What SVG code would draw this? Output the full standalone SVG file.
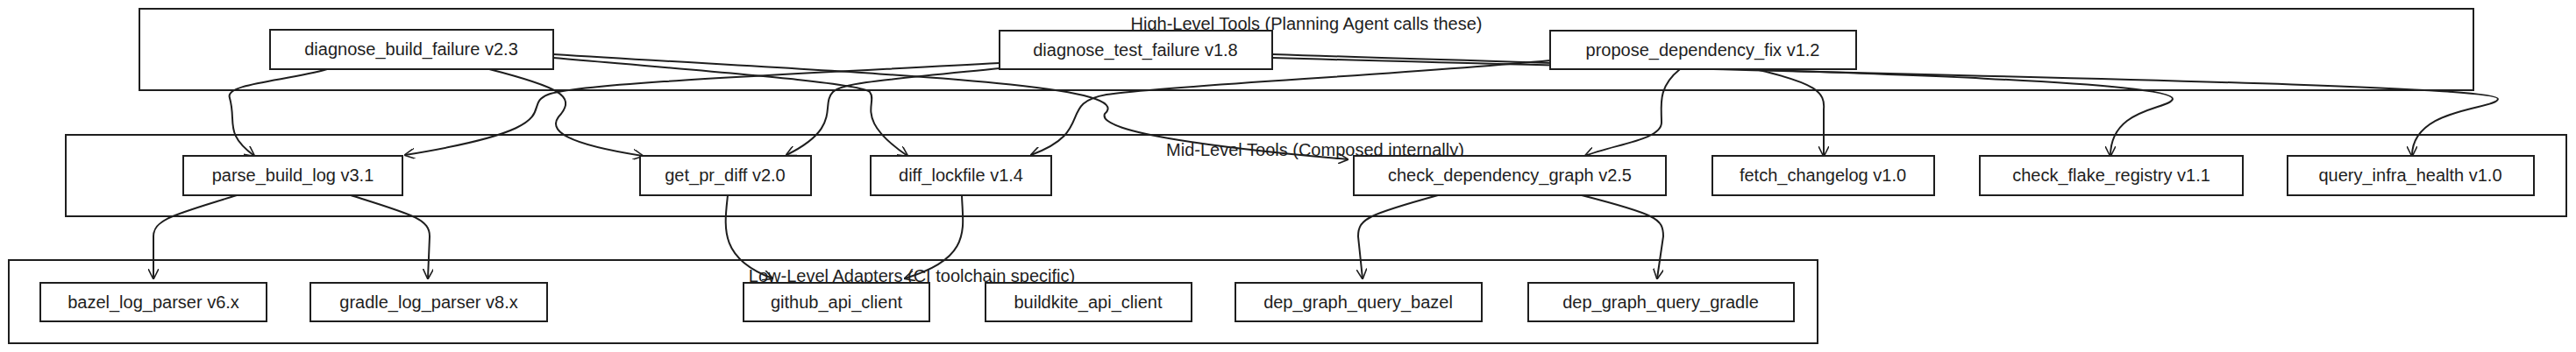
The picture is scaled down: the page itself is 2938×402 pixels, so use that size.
<svg xmlns="http://www.w3.org/2000/svg" width="2938" height="402" viewBox="0 0 2938 402">
<defs>
<marker id="ah" viewBox="0 0 12 12" refX="11" refY="6" markerWidth="12" markerHeight="12" markerUnits="userSpaceOnUse" orient="auto">
<path d="M0,0 L12,6 L0,12" fill="none" stroke="#1e1e1e" stroke-width="1.6"/>
</marker>
</defs>
<style>
.c{fill:none;stroke:#1e1e1e;stroke-width:2}
.n{fill:#fff;stroke:#1e1e1e;stroke-width:2}
.e{fill:none;stroke:#1e1e1e;stroke-width:2;marker-end:url(#ah)}
text{font-family:"Liberation Sans",Arial,sans-serif;font-size:20px;fill:#1e1e1e;text-anchor:middle;dominant-baseline:central}
</style>
<rect width="2938" height="402" fill="#fff"/>
<g id="containers">
<rect class="c" x="159" y="10" width="2662" height="93"/>
<rect class="c" x="75" y="154" width="2852" height="93"/>
<rect class="c" x="10" y="297" width="2063" height="95"/>
</g>
<g id="connectors">
<path class="e" d="M373,79 C330,92 255,95 262,112 C270,140 255,152 290,178"/>
<path class="e" d="M558,79 C640,100 655,110 640,130 C620,150 650,165 733,178"/>
<path class="e" d="M631,66 C850,85 980,95 992,105 C1002,118 972,135 1035,178"/>
<path class="e" d="M631,62 C1000,85 1300,95 1260,130 C1250,152 1400,170 1537,182"/>
<path class="e" d="M1140,72 C900,85 660,95 625,108 C590,122 660,145 462,177"/>
<path class="e" d="M1140,78 C1000,92 960,95 950,105 C935,120 962,145 897,177"/>
<path class="e" d="M1768,69 C1600,85 1330,98 1262,108 C1205,118 1250,150 1176,177"/>
<path class="e" d="M1451,62 C2000,80 2480,90 2478,113 C2475,125 2407,122 2407,178"/>
<path class="e" d="M1451,66 C2100,85 2850,95 2849,113 C2848,125 2751,122 2751,178"/>
<path class="e" d="M1916,79 C1890,100 1895,120 1895,140 C1895,160 1840,165 1808,178"/>
<path class="e" d="M2006,80 C2070,95 2082,105 2080,125 L2080,178"/>
<path class="e" d="M270,223 C200,245 175,250 175,270 L175,318"/>
<path class="e" d="M400,223 C470,245 490,250 490,270 L488,318"/>
<path class="e" d="M830,223 C826,260 820,295 881,318"/>
<path class="e" d="M1097,223 C1098,260 1110,295 1032,318"/>
<path class="e" d="M1640,223 C1560,245 1549,250 1549,270 L1554,318"/>
<path class="e" d="M1804,223 C1890,245 1897,250 1897,270 L1890,318"/>
</g>
<g id="labels">
<text x="1490" y="27">High-Level Tools (Planning Agent calls these)</text>
<text x="1500" y="171">Mid-Level Tools (Composed internally)</text>
<text x="1040" y="315">Low-Level Adapters (CI toolchain specific)</text>
</g>
<g id="dbf"><rect class="n" x="308" y="34" width="323" height="45"/><text x="469" y="56">diagnose_build_failure v2.3</text></g>
<g id="dtf"><rect class="n" x="1140" y="35" width="311" height="44"/><text x="1295" y="57">diagnose_test_failure v1.8</text></g>
<g id="pdf"><rect class="n" x="1768" y="35" width="349" height="44"/><text x="1942" y="57">propose_dependency_fix v1.2</text></g>
<g id="pbl"><rect class="n" x="209" y="178" width="250" height="45"/><text x="334" y="200">parse_build_log v3.1</text></g>
<g id="gpd"><rect class="n" x="730" y="178" width="195" height="45"/><text x="827" y="200">get_pr_diff v2.0</text></g>
<g id="dlf"><rect class="n" x="993" y="178" width="206" height="45"/><text x="1096" y="200">diff_lockfile v1.4</text></g>
<g id="cdg"><rect class="n" x="1544" y="178" width="356" height="45"/><text x="1722" y="200">check_dependency_graph v2.5</text></g>
<g id="fcl"><rect class="n" x="1953" y="178" width="253" height="45"/><text x="2079" y="200">fetch_changelog v1.0</text></g>
<g id="cfr"><rect class="n" x="2258" y="178" width="300" height="45"/><text x="2408" y="200">check_flake_registry v1.1</text></g>
<g id="qih"><rect class="n" x="2609" y="178" width="281" height="45"/><text x="2749" y="200">query_infra_health v1.0</text></g>
<g id="blp"><rect class="n" x="46" y="323" width="258" height="44"/><text x="175" y="345">bazel_log_parser v6.x</text></g>
<g id="glp"><rect class="n" x="354" y="323" width="270" height="44"/><text x="489" y="345">gradle_log_parser v8.x</text></g>
<g id="gac"><rect class="n" x="848" y="323" width="212" height="44"/><text x="954" y="345">github_api_client</text></g>
<g id="bac"><rect class="n" x="1124" y="323" width="235" height="44"/><text x="1241" y="345">buildkite_api_client</text></g>
<g id="dgb"><rect class="n" x="1409" y="323" width="281" height="44"/><text x="1549" y="345">dep_graph_query_bazel</text></g>
<g id="dgg"><rect class="n" x="1743" y="323" width="303" height="44"/><text x="1894" y="345">dep_graph_query_gradle</text></g>
</svg>
